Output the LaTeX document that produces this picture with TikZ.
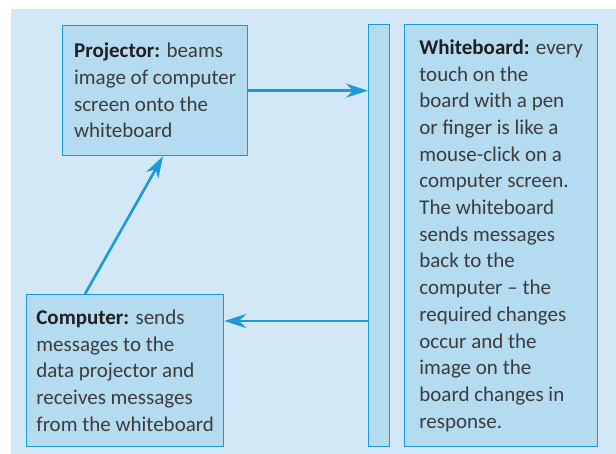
\documentclass[tikz,border=0pt]{standalone}
\usepackage{fontspec}
\setmainfont{Carlito}
\usetikzlibrary{arrows.meta,positioning}
\definecolor{bgblue}{HTML}{D3E8F6}
\definecolor{boxblue}{HTML}{B5DBF1}
\definecolor{lineblue}{HTML}{1B9AD7}
\definecolor{txtgray}{HTML}{3C3C3C}
\newcommand{\lbl}[1]{\textcolor{black!88}{\bfseries #1}}

\begin{document}
\begin{tikzpicture}[
    x=1pt,y=-1pt,
    >={Stealth[length=22pt,width=14pt]},
    infobox/.style={rectangle,draw=lineblue,line width=1.3pt,fill=boxblue,
      anchor=north west,align=left,inner sep=0pt,text=txtgray,
      font=\fontsize{21}{26.67}\selectfont},
    boardbar/.style={rectangle,draw=lineblue,line width=1.3pt,fill=boxblue,
      anchor=north west,inner sep=0pt,minimum width=21pt,minimum height=422pt},
    link/.style={->,draw=lineblue,line width=2.6pt}
    ]

    \useasboundingbox (0,0) rectangle (616,454);
    \fill [bgblue] (11,9) rectangle (616,454);

    \node [infobox,minimum width=185pt,minimum height=130pt] (proj) at (62,25)
      {\lbl{Projector:} beams\\image of computer\\screen onto the\\whiteboard};
    \node [infobox,minimum width=197pt,minimum height=152pt] (comp) at (26,294)
      {\lbl{Computer:} sends\\messages to the\\data projector and\\receives messages\\from the whiteboard};
    \node [boardbar] (bar) at (368,24) {};
    \node [infobox,minimum width=193pt,minimum height=422pt] (board) at (404,24)
      {\lbl{Whiteboard:} every\\touch on the\\board with a pen\\or finger is like a\\mouse-click on a\\computer screen.\\The whiteboard\\sends messages\\back to the\\computer -- the\\required changes\\occur and the\\image on the\\board changes in\\response.};

    % arrows
    \coordinate (cin) at ([yshift=-27pt]comp.north east);
    \draw [link] (proj.east) -- (proj.east -| bar.west);
    \draw [link] (bar.west |- cin) -- (cin);
    \draw [link] ([xshift=59pt]comp.north west) -- ([xshift=101pt]proj.south west);
  \end{tikzpicture}
\end{document}
